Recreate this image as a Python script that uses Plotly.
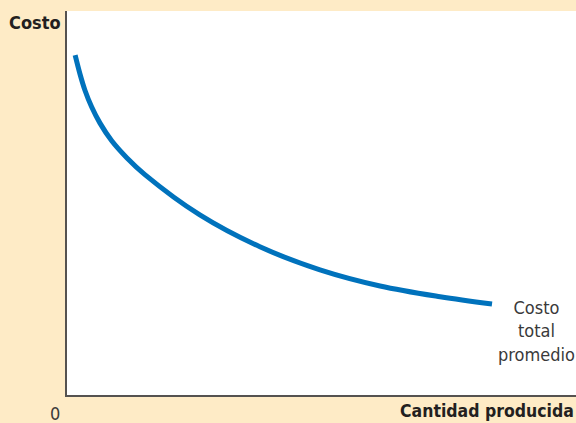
import plotly.graph_objects as go

# Data (axes in arbitrary 0-100 units)
quantity = [1.6, 2.55, 3.54, 4.85, 6.48, 8.78, 11.73, 15.3, 26.1, 37.9, 49.7, 61.5, 73.3, 83.5]
avg_total_cost = [88.5, 83.6, 79.3, 75.0, 70.8, 66.2, 61.8, 57.4, 46.9, 38.6, 32.6, 28.4, 25.6, 23.7]

y_title = "Costo"
x_title = "Cantidad producida"
origin_label = "0"
curve_label = "Costo<br>total<br>promedio"

cream = "#FEEBC6"
axis_col = "#555250"
text_col = "#231F20"
font_narrow = "Liberation Sans Narrow, DejaVu Sans Condensed, Arial Narrow, sans-serif"

fig = go.Figure()
fig.add_trace(go.Scatter(
    x=quantity, y=avg_total_cost, mode="lines",
    line=dict(color="#0072BC", width=5, shape="spline", smoothing=1.0),
    hoverinfo="skip", showlegend=False,
))

fig.update_layout(
    width=576, height=423,
    margin=dict(l=67, r=0, t=11, b=28),
    paper_bgcolor=cream, plot_bgcolor="white",
    xaxis=dict(range=[0, 100], showgrid=False, zeroline=False, showticklabels=False,
               ticks="", showline=True, linecolor=axis_col, linewidth=2, mirror=False,
               fixedrange=True),
    yaxis=dict(range=[0, 100], showgrid=False, zeroline=False, showticklabels=False,
               ticks="", showline=True, linecolor=axis_col, linewidth=2, mirror=False,
               fixedrange=True),
    font=dict(family=font_narrow, color=text_col),
)

fig.add_annotation(xref="paper", yref="paper", x=-0.008, y=1.0, xanchor="right", yanchor="middle",
                   yshift=-11, text="<b>" + y_title + "</b>", showarrow=False,
                   font=dict(size=18, color=text_col, family=font_narrow))
fig.add_annotation(xref="paper", yref="paper", x=1.0, y=0.0, xanchor="right", yanchor="top",
                   yshift=-4, text="<b>" + x_title + "</b>", showarrow=False,
                   font=dict(size=17.5, color=text_col, family=font_narrow))
fig.add_annotation(xref="paper", yref="paper", x=-0.024, y=0.0, xanchor="center", yanchor="top",
                   yshift=-6, text=origin_label, showarrow=False,
                   font=dict(size=18, color="#3a3a3a", family=font_narrow))
fig.add_annotation(xref="x", yref="y", x=92.2, y=26.0, xanchor="center", yanchor="top",
                   text=curve_label, showarrow=False, align="center",
                   font=dict(size=18, color="#3a3a3a", family=font_narrow))

fig.write_html("out.html", config={"displayModeBar": False},
               post_script="document.body.style.margin='0';document.body.style.overflow='hidden';")
